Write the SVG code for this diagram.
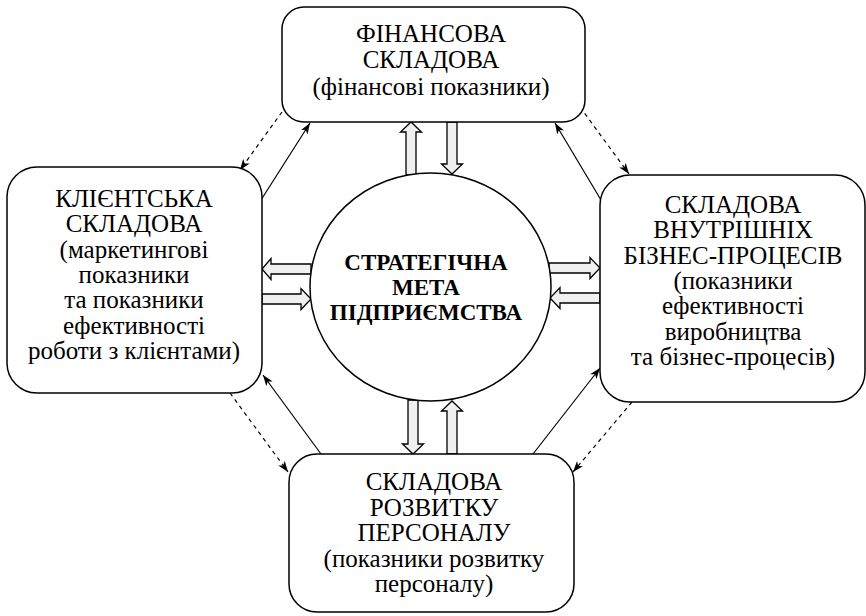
<svg xmlns="http://www.w3.org/2000/svg" width="866" height="616" viewBox="0 0 866 616">
<style>
.box{fill:#fff;stroke:#000;stroke-width:1.5}
.t{font-family:"Liberation Serif","Times New Roman",serif;font-size:25px;text-anchor:middle;fill:#000}
.b{font-family:"Liberation Serif","Times New Roman",serif;font-size:23px;font-weight:bold;text-anchor:middle;fill:#000}
.ha{fill:#f0f0f0;stroke:#000;stroke-width:1.3}
.ln{stroke:#000;stroke-width:1.2;fill:none;marker-end:url(#ah)}
.ds{stroke-dasharray:4 4}
</style>
<defs>
<marker id="ah" markerUnits="userSpaceOnUse" markerWidth="12" markerHeight="9" refX="11" refY="4" orient="auto">
<path d="M0,0 L11,4 L0,8 L3,4 z" fill="#000"/>
</marker>
</defs>
<rect width="866" height="616" fill="#fff"/>
<g id="connectors">
<line class="ln" x1="261" y1="200" x2="310" y2="123"/>
<line class="ln ds" x1="282" y1="112" x2="240" y2="170"/>
<line class="ln" x1="601" y1="200" x2="555" y2="123"/>
<line class="ln ds" x1="580" y1="107" x2="629" y2="174"/>
<line class="ln" x1="321" y1="454" x2="263" y2="375"/>
<line class="ln ds" x1="230" y1="393" x2="288" y2="472"/>
<line class="ln" x1="533" y1="454" x2="600" y2="368"/>
<line class="ln ds" x1="632" y1="402" x2="573" y2="472"/>
<polygon class="ha" points="406,175 406,132 400.5,132 411,122 421.5,132 416,132 416,175"/>
<polygon class="ha" points="447,122 447,164 441.5,164 452,174 462.5,164 457,164 457,122"/>
<polygon class="ha" points="408,400 408,444 402.5,444 413,454 423.5,444 418,444 418,400"/>
<polygon class="ha" points="447,454 447,411 441.5,411 452,401 462.5,411 457,411 457,454"/>
<polygon class="ha" points="311,264 271,264 271,258.5 262,269 271,279.5 271,274 311,274"/>
<polygon class="ha" points="262,294 301,294 301,288.5 311,299 301,309.5 301,304 262,304"/>
<polygon class="ha" points="549,263 590,263 590,257.5 600,268 590,278.5 590,273 549,273"/>
<polygon class="ha" points="600,293 560,293 560,287.5 550,298 560,308.5 560,303 600,303"/>
</g>
<g id="goal">
<ellipse class="box" cx="430.5" cy="287" rx="120.5" ry="114"/>
<text class="b" x="426" y="270">СТРАТЕГІЧНА</text>
<text class="b" x="426" y="295">МЕТА</text>
<text class="b" x="426" y="320">ПІДПРИЄМСТВА</text>
</g>
<g id="financial">
<rect class="box" x="282" y="7" width="303" height="115" rx="22"/>
<text class="t" x="431" y="42">ФІНАНСОВА</text>
<text class="t" x="431" y="68">СКЛАДОВА</text>
<text class="t" x="431" y="95">(фінансові показники)</text>
</g>
<g id="client">
<rect class="box" x="7" y="167" width="255" height="226" rx="30"/>
<text class="t" x="134" y="207">КЛІЄНТСЬКА</text>
<text class="t" x="134" y="232.3">СКЛАДОВА</text>
<text class="t" x="134" y="257.7">(маркетингові</text>
<text class="t" x="134" y="283">показники</text>
<text class="t" x="134" y="308.3">та показники</text>
<text class="t" x="134" y="333.7">ефективності</text>
<text class="t" x="134" y="359">роботи з клієнтами)</text>
</g>
<g id="internal">
<rect class="box" x="600" y="175" width="265" height="227" rx="30"/>
<text class="t" x="733" y="213">СКЛАДОВА</text>
<text class="t" x="733" y="238.3">ВНУТРІШНІХ</text>
<text class="t" x="733" y="263.7">БІЗНЕС-ПРОЦЕСІВ</text>
<text class="t" x="733" y="289">(показники</text>
<text class="t" x="733" y="314.3">ефективності</text>
<text class="t" x="733" y="339.7">виробництва</text>
<text class="t" x="733" y="365">та бізнес-процесів)</text>
</g>
<g id="personnel">
<rect class="box" x="289" y="454" width="285" height="158" rx="28"/>
<text class="t" x="434" y="490">СКЛАДОВА</text>
<text class="t" x="434" y="515.5">РОЗВИТКУ</text>
<text class="t" x="434" y="541">ПЕРСОНАЛУ</text>
<text class="t" x="434" y="566.5">(показники розвитку</text>
<text class="t" x="434" y="592">персоналу)</text>
</g>
</svg>
